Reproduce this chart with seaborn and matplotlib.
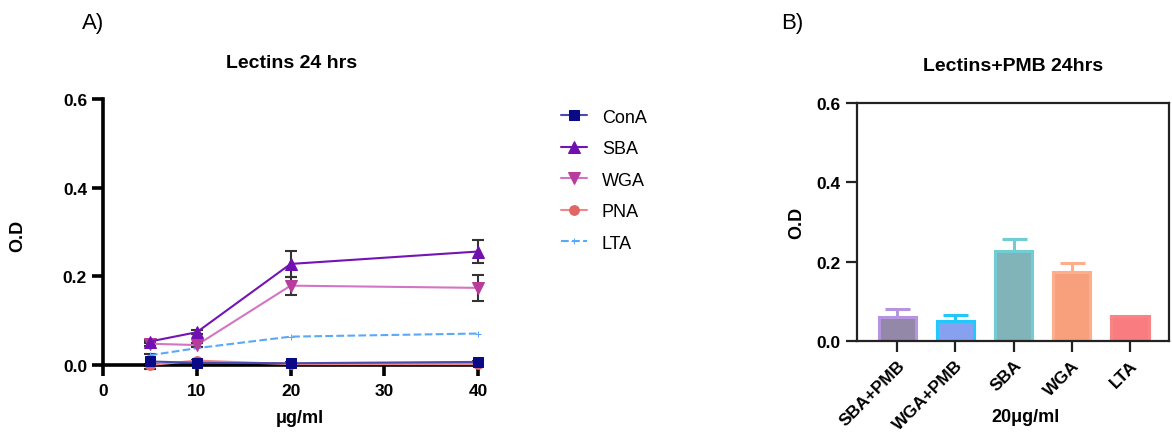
import numpy as np
import pandas as pd
import matplotlib
matplotlib.use("Agg")
import matplotlib.pyplot as plt
import seaborn as sns

# panel A: lectin dose response (O.D at 24 hrs)
conc = [5, 10, 20, 40]
cona = [0.008, 0.005, 0.004, 0.007]
cona_err = [0.016, 0.003, 0.002, 0.003]
sba = [0.053, 0.074, 0.228, 0.256]
sba_err = [0.004, 0.004, 0.030, 0.027]
wga = [0.048, 0.045, 0.179, 0.174]
wga_err = [0.004, 0.004, 0.020, 0.030]
pna = [0.000, 0.010, 0.002, 0.002]
pna_err = [0.002, 0.002, 0.001, 0.001]
lta = [0.022, 0.038, 0.064, 0.071]
lta_err = [0.0, 0.0, 0.0, 0.0]

# panel B: lectins + PMB at 20 ug/ml
bar_labels = ["SBA+PMB", "WGA+PMB", "SBA", "WGA", "LTA"]
bar_values = [0.061, 0.051, 0.228, 0.175, 0.064]
bar_err = [0.020, 0.014, 0.030, 0.022, 0.0]

bar_fill = ["#9488a8", "#88a0f0", "#80b4b8", "#f8a07c", "#f87c80"]
bar_edge = ["#b594e0", "#22c8fc", "#72ccd4", "#ffae8c", "#f88488"]

sns.set_style("ticks")
plt.rcParams['font.family'] = ['Liberation Sans', 'DejaVu Sans']
plt.rcParams['text.color'] = 'black'
plt.rcParams['axes.labelcolor'] = 'black'
plt.rcParams['xtick.color'] = 'black'
plt.rcParams['ytick.color'] = 'black'

fig = plt.figure(figsize=(11.72, 4.35), dpi=100)
ax1 = fig.add_axes([0.0879, 0.1586, 0.3225, 0.6115])
ax2 = fig.add_axes([0.7312, 0.2138, 0.2662, 0.5470])

series = [
    ("ConA", cona, cona_err, "#4a4ab0", "#0a0a86", "s", "-", 7),
    ("SBA", sba, sba_err, "#7414b4", "#7010b0", "^", "-", 8),
    ("WGA", wga, wga_err, "#d474c4", "#b83c9c", "v", "-", 8),
    ("PNA", pna, pna_err, "#f08888", "#e46464", "o", "-", 7),
    ("LTA", lta, lta_err, "#5aa8f8", "#5aa8f8", "+", "--", 4),
]

# draw back to front so ConA sits on top like the original
for name, vals, err, lc, mc, mk, ls, ms in reversed(series):
    sns.lineplot(x=conc, y=vals, ax=ax1, color=lc, marker=mk, markersize=ms,
                 markerfacecolor=mc, markeredgecolor=mc, linestyle=ls, linewidth=1.5,
                 label=name, clip_on=False, zorder=3)
    if max(err) > 0:
        ax1.errorbar(conc, vals, yerr=err, fmt="none", ecolor="#333333",
                     elinewidth=1.5, capsize=4, capthick=1.5, zorder=2, clip_on=False)

ax1.set_xlim(0, 40.3)
ax1.set_ylim(0, 0.6)
ax1.set_xticks([0, 10, 20, 30, 40])
ax1.set_yticks([0.0, 0.2, 0.4, 0.6])
ax1.set_yticklabels(["0.0", "0.2", "0.4", "0.6"])
sns.despine(ax=ax1)
for s in ["left", "bottom"]:
    ax1.spines[s].set_linewidth(2.6)
    ax1.spines[s].set_color("black")
ax1.tick_params(axis="both", width=2.6, length=8, labelsize=12.5, color="black")
ax1.tick_params(axis="x", pad=5)
for t in ax1.get_xticklabels() + ax1.get_yticklabels():
    t.set_fontweight("bold")
ax1.set_xlabel("")
ax1.set_ylabel("")
ax1.set_title("Lectins 24 hrs", fontsize=14, fontweight="bold", pad=23)

handles, labels = ax1.get_legend_handles_labels()
order = [labels.index(n) for n in ["ConA", "SBA", "WGA", "PNA", "LTA"]]
ax1.legend_.remove()
fig.legend([handles[i] for i in order], [labels[i] for i in order],
           loc="upper left", bbox_to_anchor=(0.465, 0.785), frameon=False,
           fontsize=13, labelspacing=0.8, handlelength=1.45, handletextpad=0.8)

# panel B bars
df_bar = pd.DataFrame({"group": bar_labels, "od": bar_values})
sns.barplot(data=df_bar, x="group", y="od", hue="group", palette=bar_fill,
            saturation=1, legend=False, width=0.64, ax=ax2, zorder=2)
for patch, ec in zip(ax2.patches, bar_edge):
    patch.set_edgecolor(ec)
    patch.set_linewidth(2.2)
for i, (v, e) in enumerate(zip(bar_values, bar_err)):
    if e > 0:
        ax2.errorbar(i, v, yerr=[[0], [e]], fmt="none", ecolor=bar_edge[i],
                     elinewidth=2.2, capsize=9, capthick=2.2, zorder=1)

ax2.set_xlim(-0.69, 4.67)
ax2.set_ylim(0, 0.6)
ax2.set_yticks([0.0, 0.2, 0.4, 0.6])
ax2.set_yticklabels(["0.0", "0.2", "0.4", "0.6"])
for s in ax2.spines.values():
    s.set_linewidth(1.6)
    s.set_color("#222222")
ax2.tick_params(axis="both", width=1.6, length=8, labelsize=12.5, color="#222222")
ax2.set_xticks(range(len(bar_labels)))
ax2.set_xticklabels(bar_labels, rotation=45, ha="right", rotation_mode="anchor")
for t in ax2.get_xticklabels() + ax2.get_yticklabels():
    t.set_fontweight("bold")
ax2.set_xlabel("")
ax2.set_ylabel("")
ax2.set_title("Lectins+PMB 24hrs", fontsize=14, fontweight="bold", pad=24)

# axis labels and panel letters
fig.text(18 / 1172, 1 - 236 / 435, "O.D", rotation=90, fontsize=13, fontweight="bold",
         ha="center", va="center")
fig.text(300 / 1172, 1 - 419 / 435, "μg/ml", fontsize=13, fontweight="bold",
         ha="center", va="center")
fig.text(797 / 1172, 1 - 223 / 435, "O.D", rotation=90, fontsize=13, fontweight="bold",
         ha="center", va="center")
fig.text(1025 / 1172, 1 - 418 / 435, "20μg/ml", fontsize=13, fontweight="bold",
         ha="center", va="center")
fig.text(93 / 1172, 1 - 23 / 435, "A)", fontsize=16, ha="center", va="center")
fig.text(792 / 1172, 1 - 23 / 435, "B)", fontsize=16, ha="center", va="center")

fig.savefig("out.png", dpi=100, facecolor="white")
